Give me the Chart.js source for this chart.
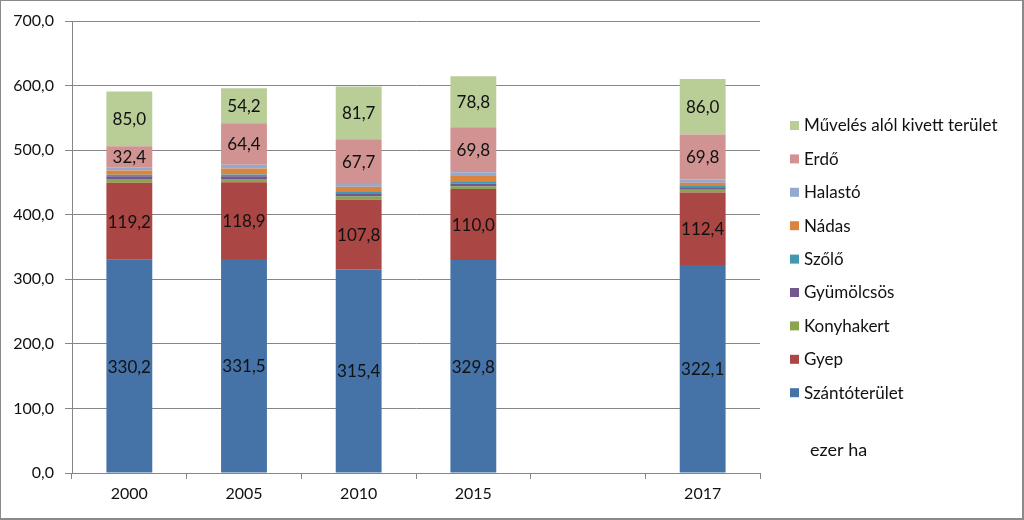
<!DOCTYPE html>
<html>
<head>
<meta charset="utf-8">
<script src="https://cdn.jsdelivr.net/npm/chart.js@4/dist/chart.umd.min.js"></script>
<style>
  html, body { margin: 0; padding: 0; background: #fff; }
  #wrap { position: relative; width: 1024px; height: 520px; }
</style>
</head>
<body>
<div id="wrap"><canvas id="chart"></canvas></div>
<script>
const years = ["2000", "2005", "2010", "2015", "", "2017"];
const yTicks = [0, 100, 200, 300, 400, 500, 600, 700];

const szanto = [330.2, 331.5, 315.4, 329.8, null, 322.1];
const gyep = [119.2, 118.9, 107.8, 110.0, null, 112.4];
const konyhakert = [6.0, 5.0, 5.0, 4.0, null, 4.0];
const gyumolcsos = [4.0, 4.0, 4.0, 4.0, null, 3.0];
const szolo = [2.5, 3.0, 3.0, 3.0, null, 3.0];
const nadas = [6.5, 9.0, 8.0, 9.0, null, 5.0];
const halasto = [5.2, 6.0, 6.0, 6.0, null, 5.0];
const erdo = [32.4, 64.4, 67.7, 69.8, null, 69.8];
const muveles = [85.0, 54.2, 81.7, 78.8, null, 86.0];

const unitLabel = "ezer ha";
const FONT = "Lato, 'Open Sans', sans-serif";

function fmt(v) {
  return v.toFixed(1).replace(".", ",");
}

function series(label, data, color, showLabel) {
  return { label, data, backgroundColor: color, borderWidth: 0, showLabel };
}

const datasets = [
  series("Szántóterület", szanto, "#4572A7", true),
  series("Gyep", gyep, "#AA4643", true),
  series("Konyhakert", konyhakert, "#89A54E", false),
  series("Gyümölcsös", gyumolcsos, "#71588F", false),
  series("Szőlő", szolo, "#4198AF", false),
  series("Nádas", nadas, "#DB843D", false),
  series("Halastó", halasto, "#93A9CF", false),
  series("Erdő", erdo, "#D19392", true),
  series("Művelés alól kivett terület", muveles, "#B9CD96", true),
];

// value labels inside the big segments
const segmentLabels = {
  id: "segmentLabels",
  afterDatasetsDraw(chart) {
    const ctx = chart.ctx;
    ctx.save();
    ctx.font = "17px " + FONT;
    ctx.fillStyle = "#111";
    ctx.textAlign = "center";
    ctx.textBaseline = "middle";
    chart.data.datasets.forEach((ds, i) => {
      if (!ds.showLabel) return;
      chart.getDatasetMeta(i).data.forEach((bar, j) => {
        const v = ds.data[j];
        if (v == null) return;
        ctx.fillText(fmt(v), bar.x, (bar.y + bar.base) / 2 + 1);
      });
    });
    ctx.restore();
  },
};

// legend on the right + unit text + frame
const sideLegend = {
  id: "sideLegend",
  afterDraw(chart) {
    const ctx = chart.ctx;
    ctx.save();
    ctx.font = "17px " + FONT;
    ctx.textBaseline = "middle";
    ctx.textAlign = "left";
    const items = chart.data.datasets.slice().reverse();
    items.forEach((ds, k) => {
      const y = 126 + k * 33.4;
      ctx.fillStyle = ds.backgroundColor;
      ctx.fillRect(790, y - 5, 9, 9);
      ctx.fillStyle = "#111";
      ctx.fillText(ds.label, 804, y);
    });
    ctx.font = "18px " + FONT;
    ctx.fillText(unitLabel, 810, 450);

    ctx.strokeStyle = "#8a8a8a";
    ctx.lineWidth = 1;
    ctx.strokeRect(0.5, 0.5, chart.width - 1, chart.height - 1);
    ctx.lineWidth = 2;
    ctx.beginPath();
    ctx.moveTo(0, chart.height - 1);
    ctx.lineTo(chart.width, chart.height - 1);
    ctx.moveTo(chart.width - 1, 0);
    ctx.lineTo(chart.width - 1, chart.height);
    ctx.stroke();
    ctx.restore();
  },
};

new Chart(document.getElementById("chart"), {
  type: "bar",
  data: { labels: years, datasets },
  options: {
    responsive: true,
    maintainAspectRatio: false,
    animation: false,
    layout: { padding: { top: 21, right: 264, left: 0, bottom: 0 } },
    plugins: {
      legend: { display: false },
      tooltip: { enabled: false },
    },
    datasets: {
      bar: { categoryPercentage: 0.8, barPercentage: 0.5 },
    },
    scales: {
      x: {
        stacked: true,
        afterFit: (s) => { s.height = 47; },
        border: { color: "#868686", width: 1 },
        grid: { drawOnChartArea: false, drawTicks: true, tickLength: 6, color: "#868686" },
        ticks: { color: "#111", font: { family: FONT, size: 16 }, padding: 5 },
      },
      y: {
        stacked: true,
        min: 0,
        max: 700,
        afterFit: (s) => { s.width = 72; },
        afterBuildTicks: (s) => { s.ticks = yTicks.map((v) => ({ value: v })); },
        border: { color: "#868686", width: 1 },
        grid: { color: "#868686", tickLength: 7, lineWidth: 1 },
        ticks: {
          color: "#111",
          font: { family: FONT, size: 16 },
          padding: 11,
          callback: (v) => fmt(v),
        },
      },
    },
  },
  plugins: [segmentLabels, sideLegend],
});
</script>
</body>
</html>
